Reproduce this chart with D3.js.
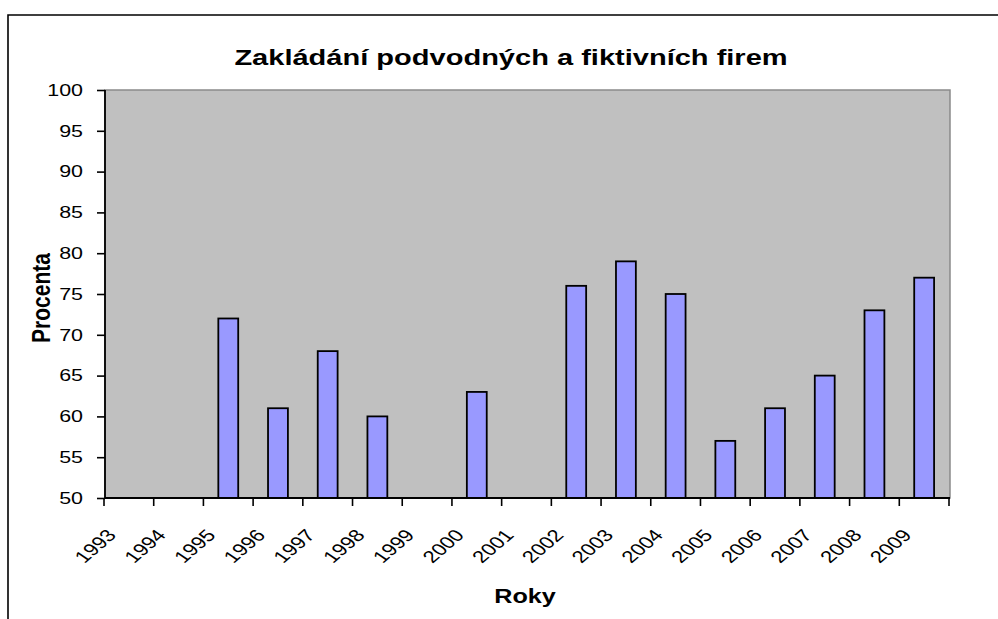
<!DOCTYPE html>
<html>
<head>
<meta charset="utf-8">
<script src="https://cdn.jsdelivr.net/npm/d3@7"></script>
<style>
  body { margin: 0; background: #fff; }
  text { font-family: Arial, "Liberation Sans", sans-serif; fill: #000; }
</style>
</head>
<body>
<svg id="chart"></svg>
<script>
// data (null = no bar that year)
var years = ["1993","1994","1995","1996","1997","1998","1999","2000","2001",
             "2002","2003","2004","2005","2006","2007","2008","2009"];
var percent = [null, null, 72, 61, 68, 60, null, 63, null,
               76, 79, 75, 57, 61, 65, 73, 77];
var yTicks = [50, 55, 60, 65, 70, 75, 80, 85, 90, 95, 100];

var titleText = "Zakládání podvodných a fiktivních firem";
var xTitle = "Roky";
var yTitle = "Procenta";

var width = 998,
    height = 619;

var svg = d3.select('#chart')
            .attr("width", width)
            .attr("height", height);

// the original looks stretched sideways, so every text gets a small x scale
var SX = 1.3;

// outer chart frame (only top and left show)
svg.append("path")
    .attr("d", "M8," + height + " L8,15 L" + width + ",15")
    .attr("fill", "none")
    .attr("stroke", "#000")
    .attr("stroke-width", 1.6);

// NB: "top" is taken by window.top, so plot edges get own names
var pLeft = 105, pRight = 950, pTop = 90, pBottom = 498;

var x = d3.scaleBand()
    .domain(years)
    .range([104, 949])
    .paddingInner(0);

var y = d3.scaleLinear()
    .domain([50, 100])
    .range([pBottom, pTop]);

// plot area
svg.append("rect")
    .attr("x", pLeft)
    .attr("y", pTop)
    .attr("width", pRight - pLeft)
    .attr("height", pBottom - pTop)
    .attr("fill", "#C0C0C0")
    .attr("stroke", "#8a8a8a")
    .attr("stroke-width", 1.5);

// bars
var data = years.map(function(d, i){ return {year: d, value: percent[i]}; })
                .filter(function(d){ return d.value != null; });

svg.selectAll(".bar")
    .data(data)
    .enter()
    .append("rect")
    .attr("class", "bar")
    .attr("x", function(d){ return x(d.year) + x.bandwidth() * 0.3; })
    .attr("y", function(d){ return y(d.value); })
    .attr("width", x.bandwidth() * 0.4)
    .attr("height", function(d){ return y(50) - y(d.value); })
    .attr("fill", "#9999FF")
    .attr("stroke", "#000")
    .attr("stroke-width", 1.8);

// y axis
var yAxis = svg.append("g")
    .attr("transform", "translate(" + pLeft + ",0)")
    .call(d3.axisLeft(y).tickValues(yTicks).tickSize(8).tickPadding(14));

yAxis.select(".domain").attr("stroke-width", 1.8).attr("d", "M0," + pTop + "V" + pBottom);
yAxis.selectAll(".tick line").attr("stroke-width", 1.6);
yAxis.selectAll(".tick text")
    .attr("x", null)
    .attr("transform", "translate(-22,0) scale(" + SX + ",1)")
    .attr("font-size", "16.5px")
    .attr("font-family", "Arial, 'Liberation Sans', sans-serif");

// x axis: labels at category centres, ticks on category edges
var xAxis = svg.append("g")
    .attr("transform", "translate(0," + pBottom + ")")
    .call(d3.axisBottom(x).tickSize(0));

xAxis.select(".domain").attr("stroke-width", 1.8).attr("d", "M" + pLeft + ",0H" + pRight);
xAxis.selectAll(".tick text")
    .attr("y", null)
    .attr("dy", null)
    .attr("text-anchor", "end")
    .attr("transform", "translate(-11.5,38) scale(" + SX + ",1) rotate(-48)")
    .attr("font-size", "17px")
    .attr("font-family", "Arial, 'Liberation Sans', sans-serif");

var edges = years.map(function(d){ return x(d); }).concat([x.range()[1]]);
svg.selectAll(".xtick")
    .data(edges)
    .enter()
    .append("line")
    .attr("class", "xtick")
    .attr("x1", function(d){ return d; })
    .attr("x2", function(d){ return d; })
    .attr("y1", pBottom)
    .attr("y2", pBottom + 8)
    .attr("stroke", "#000")
    .attr("stroke-width", 1.6);

// titles
svg.append("text")
    .attr("text-anchor", "middle")
    .attr("transform", "translate(511,65) scale(1.32,1)")
    .attr("font-size", "22px")
    .attr("font-weight", "bold")
    .text(titleText);

svg.append("text")
    .attr("text-anchor", "middle")
    .attr("transform", "translate(525,603) scale(1.2,1)")
    .attr("font-size", "21px")
    .attr("font-weight", "bold")
    .text(xTitle);

svg.append("text")
    .attr("text-anchor", "middle")
    .attr("transform", "translate(50,298) scale(1.2,1) rotate(-90)")
    .attr("font-size", "21px")
    .attr("font-weight", "bold")
    .text(yTitle);
</script>
</body>
</html>
